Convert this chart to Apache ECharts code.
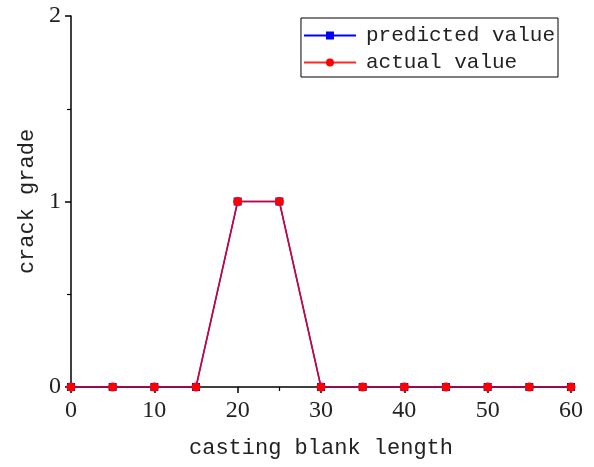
<!DOCTYPE html>
<html>
<head>
<meta charset="utf-8">
<script src="https://cdn.jsdelivr.net/npm/echarts@6/dist/echarts.min.js"></script>
<style>
  html, body { margin: 0; padding: 0; background: #fff; }
  #chart { width: 594px; height: 467px; }
</style>
</head>
<body>
<div id="chart"></div>
<script>
// 铸坯长度与裂纹等级
const castingLength = [0, 5, 10, 15, 20, 25, 30, 35, 40, 45, 50, 55, 60]
const predictedValue = [0, 0, 0, 0, 1, 1, 0, 0, 0, 0, 0, 0, 0]
const actualValue = [0, 0, 0, 0, 1, 1, 0, 0, 0, 0, 0, 0, 0]
const seriesNames = ['predicted value', 'actual value']

const font = 'Liberation Mono'
const numFont = 'Liberation Serif'
const textColor = '#222'

const toPairs = (xs, ys) => xs.map((x, i) => [x, ys[i]])

const chart = echarts.init(document.getElementById('chart'))

const option = {
  animation: false,
  grid: { left: 71, right: 23, top: 16, bottom: 80 },
  legend: {
    right: 36,
    top: 18,
    orient: 'vertical',
    data: seriesNames,
    itemWidth: 52,
    itemHeight: 10,
    itemGap: 6,
    padding: [7, 3, 4, 2],
    borderColor: '#000',
    borderWidth: 1,
    textStyle: { fontFamily: font, fontSize: 21, color: textColor, padding: [0, 0, 0, 5] }
  },
  xAxis: {
    type: 'value',
    min: 0,
    max: 60,
    interval: 10,
    name: 'casting blank length',
    nameLocation: 'middle',
    nameGap: 50,
    nameTextStyle: { fontFamily: font, fontSize: 22, color: textColor },
    axisLine: { onZero: false, lineStyle: { color: '#000', width: 1.5 } },
    axisTick: { inside: false, length: 6, lineStyle: { color: '#000', width: 1.5 } },
    minorTick: { show: true, splitNumber: 2, length: 4, lineStyle: { color: '#000', width: 1.2 } },
    axisLabel: { fontFamily: numFont, fontSize: 24, color: textColor, margin: 12 },
    splitLine: { show: false }
  },
  yAxis: {
    type: 'value',
    min: 0,
    max: 2,
    interval: 1,
    name: 'crack grade',
    nameLocation: 'middle',
    nameGap: 33,
    nameTextStyle: { fontFamily: font, fontSize: 22, color: textColor },
    axisLine: { show: true, lineStyle: { color: '#000', width: 1.5 } },
    axisTick: { show: true, length: 6, lineStyle: { color: '#000', width: 1.5 } },
    minorTick: { show: true, splitNumber: 2, length: 4, lineStyle: { color: '#000', width: 1.2 } },
    axisLabel: { fontFamily: numFont, fontSize: 24, color: textColor, margin: 10 },
    splitLine: { show: false }
  },
  series: [
    {
      name: seriesNames[0],
      type: 'line',
      data: toPairs(castingLength, predictedValue),
      symbol: 'rect',
      symbolSize: 8,
      showAllSymbol: true,
      lineStyle: { color: '#0000ff', width: 1.5 },
      itemStyle: { color: '#0000ff' },
      z: 2
    },
    {
      name: seriesNames[1],
      type: 'line',
      data: toPairs(castingLength, actualValue),
      symbol: 'circle',
      symbolSize: 9,
      showAllSymbol: true,
      lineStyle: { color: '#ff0000', width: 1.5, opacity: 0.85 },
      itemStyle: { color: '#ff0000' },
      z: 3
    }
  ]
}

chart.setOption(option)
</script>
</body>
</html>
